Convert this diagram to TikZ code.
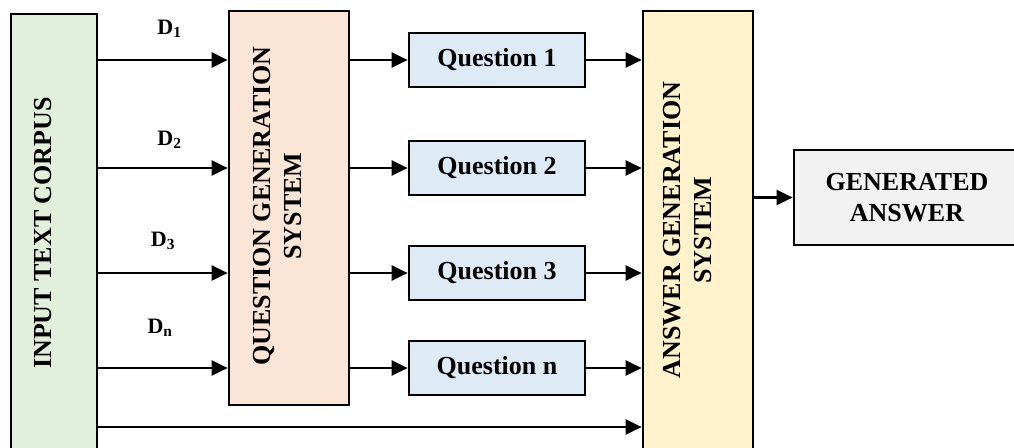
\documentclass[tikz,border=0pt]{standalone}
\usepackage{fontspec}
\setmainfont{Liberation Serif}
\usepackage{tikz}
\usetikzlibrary{arrows.meta}

\definecolor{inpgreen}{HTML}{E2EFDA}
\definecolor{qgsorange}{HTML}{FBE5D6}
\definecolor{qblue}{HTML}{DEEBF7}
\definecolor{agsyellow}{HTML}{FFF2CC}
\definecolor{gagrey}{HTML}{F2F2F2}

\begin{document}
\begin{tikzpicture}[x=1pt, y=-1pt,
        box/.style={draw, line width=2.7pt, inner sep=0pt,
            font=\bfseries\fontsize{26}{31}\selectfont},
        boxtext/.style={inner sep=0pt, align=center,
            font=\bfseries\fontsize{26}{31}\selectfont},
        arr/.style={-{Triangle[length=16pt, width=15pt]}, line width=2.5pt},
        dlabel/.style={inner sep=0pt, font=\bfseries\fontsize{22}{26}\selectfont}]
        \clip (0, 0) rectangle (1014, 447);
        \fill [white] (0, 0) rectangle (1014, 447);
        % main blocks
        \node [box, fill=inpgreen, minimum width=86pt, minimum height=461pt] (inp) at (54, 244.5) {};
        \node [boxtext, rotate=90] (inptext) at (43, 233) {INPUT TEXT CORPUS};
        \node [box, fill=qgsorange, minimum width=120pt, minimum height=394pt] (qgs) at (289, 208) {};
        \node [boxtext, rotate=90] (qgstext) at (277.5, 206) {QUESTION GENERATION\\SYSTEM};
        \node [box, fill=agsyellow, minimum width=110pt, minimum height=464pt] (ags) at (698, 243) {};
        \node [boxtext, rotate=90] (agstext) at (687.5, 230) {ANSWER GENERATION\\SYSTEM};
        \node [box, fill=gagrey, minimum width=226pt, minimum height=95pt, align=center] (ga) at (907, 197.5) {GENERATED\\ANSWER};
        % questions
        \node [box, fill=qblue, minimum width=176pt, minimum height=54pt] (q1) at (497, 60) {Question 1};
        \node [box, fill=qblue, minimum width=176pt, minimum height=54pt] (q2) at (497, 168) {Question 2};
        \node [box, fill=qblue, minimum width=176pt, minimum height=54pt] (q3) at (497, 273) {Question 3};
        \node [box, fill=qblue, minimum width=176pt, minimum height=54pt] (qn) at (497, 368) {Question n};
        % documents
        \draw [arr] (inp.east |- q1) -- (qgs.west |- q1);
        \draw [arr] (inp.east |- q2) -- (qgs.west |- q2);
        \draw [arr] (inp.east |- q3) -- (qgs.west |- q3);
        \draw [arr] (inp.east |- qn) -- (qgs.west |- qn);
        \node [dlabel] (d1) at (169.5, 29) {D\textsubscript{1}};
        \node [dlabel] (d2) at (169.5, 140) {D\textsubscript{2}};
        \node [dlabel] (d3) at (163, 241) {D\textsubscript{3}};
        \node [dlabel] (dn) at (160, 328) {D\textsubscript{n}};
        % questions in and out
        \draw [arr] (qgs.east |- q1) -- (q1.west);
        \draw [arr] (qgs.east |- q2) -- (q2.west);
        \draw [arr] (qgs.east |- q3) -- (q3.west);
        \draw [arr] (qgs.east |- qn) -- (qn.west);
        \draw [arr] (q1.east) -- (ags.west |- q1);
        \draw [arr] (q2.east) -- (ags.west |- q2);
        \draw [arr] (q3.east) -- (ags.west |- q3);
        \draw [arr] (qn.east) -- (ags.west |- qn);
        % corpus straight to answers
        \coordinate (bottom) at (0, 427);
        \draw [arr] (inp.east |- bottom) -- (ags.west |- bottom);
        \draw [arr] (ags.east |- ga) -- (ga.west);
    \end{tikzpicture}
\end{document}
